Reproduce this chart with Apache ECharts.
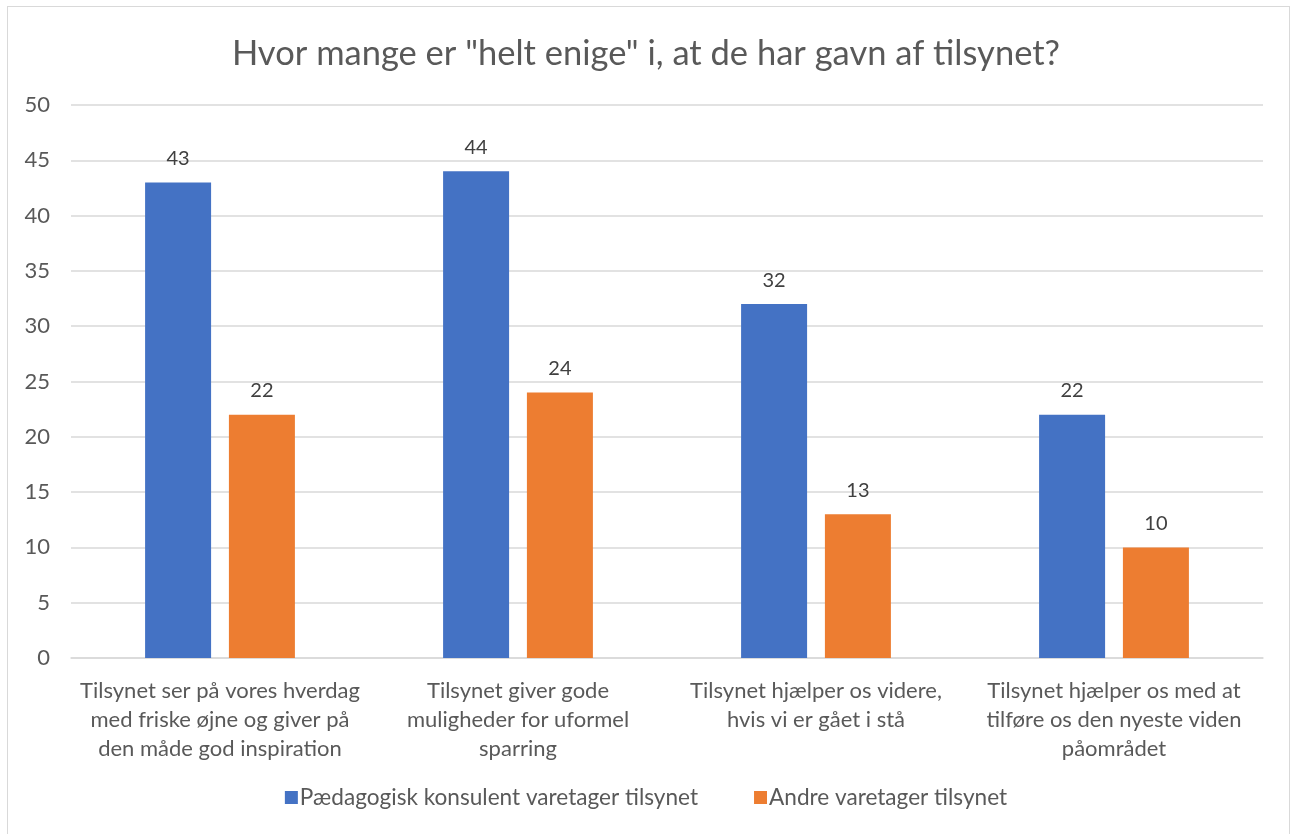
<!DOCTYPE html>
<html><head><meta charset="utf-8">
<script src="https://cdn.jsdelivr.net/npm/echarts@6/dist/echarts.min.js"></script>
<style>
html,body{margin:0;padding:0;background:#fff;}
#frame{position:absolute;left:7px;top:6px;width:1283px;height:840px;border:1px solid #d9d9d9;box-sizing:border-box;}
#c{position:absolute;left:0;top:0;width:1292px;height:834px;}
</style></head>
<body>
<div id="frame"></div>
<div id="c"></div>
<script>
const titleText = 'Hvor mange er "helt enige" i, at de har gavn af tilsynet?';
const categories = [
  'Tilsynet ser på vores hverdag\nmed friske øjne og giver på\nden måde god inspiration',
  'Tilsynet giver gode\nmuligheder for uformel\nsparring',
  'Tilsynet hjælper os videre,\nhvis vi er gået i stå',
  'Tilsynet hjælper os med at\ntilføre os den nyeste viden\npåområdet'
];
const seriesNames = ['Pædagogisk konsulent varetager tilsynet', 'Andre varetager tilsynet'];
const konsulent = [43, 44, 32, 22];
const andre = [22, 24, 13, 10];

const chart = echarts.init(document.getElementById('c'), null, {renderer:'canvas'});
const font = 'Lato, "Open Sans", sans-serif';
const lbl = {show:true, position:'top', distance:14, color:'#404040', fontSize:20, fontFamily:font};
chart.setOption({
  animation:false,
  title:{text:titleText, left:'center', top:31, textStyle:{fontSize:34.5, fontWeight:'normal', color:'#595959', fontFamily:font}},
  legend:{bottom:20, left:'center', itemWidth:13, itemHeight:13, itemGap:56, icon:'rect',
    textStyle:{fontSize:22.6, color:'#595959', fontFamily:font, padding:[0,0,0,-3]}},
  grid:{left:71, right:29, top:105, bottom:176, containLabel:false},
  xAxis:{type:'category', data:categories, axisTick:{show:false},
    axisLine:{lineStyle:{color:'#d9d9d9', width:1.5}},
    axisLabel:{color:'#595959', fontSize:22, fontFamily:font, lineHeight:29, margin:18, interval:0}},
  yAxis:{type:'value', min:0, max:50, interval:5,
    axisLine:{show:false}, axisTick:{show:false},
    splitLine:{lineStyle:{color:'#d9d9d9', width:1.5}},
    axisLabel:{color:'#595959', fontSize:22, fontFamily:font, margin:21}},
  series:[
    {name:seriesNames[0], type:'bar', data:konsulent, barWidth:66, barGap:'27%', itemStyle:{color:'#4472C4'}, label:lbl},
    {name:seriesNames[1], type:'bar', data:andre, barWidth:66, itemStyle:{color:'#ED7D31'}, label:lbl}
  ]
});
</script>
</body></html>
